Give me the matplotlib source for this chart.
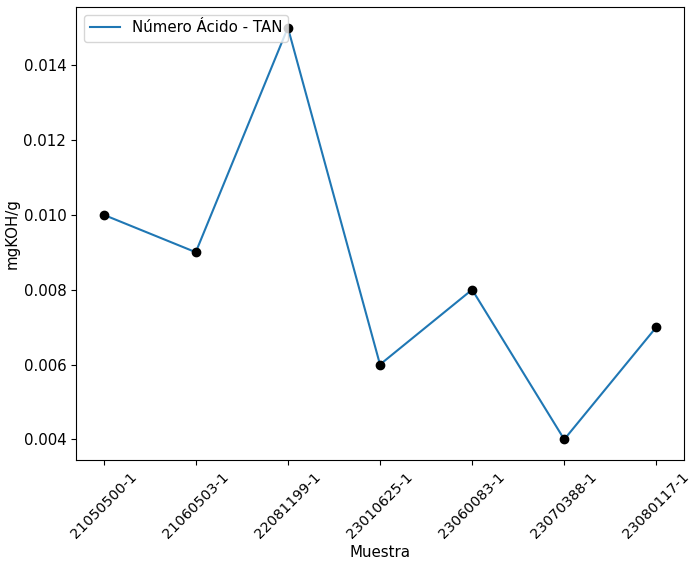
import matplotlib
matplotlib.use("Agg")
import matplotlib.pyplot as plt

muestras = ["21050500-1", "21060503-1", "22081199-1", "23010625-1",
            "23060083-1", "23070388-1", "23080117-1"]
tan = [0.010, 0.009, 0.015, 0.006, 0.008, 0.004, 0.007]

plt.rcParams['font.size'] = 10.8
fig = plt.figure(figsize=(6.91, 5.66), dpi=100)
ax = fig.add_axes([76/691, 1-460/566, (684-76)/691, (460-7)/566])
ax.plot(muestras, tan, color='#1f77b4', label='Número Ácido - TAN')
ax.scatter(muestras, tan, color='black', zorder=3)
ax.set_xlabel('Muestra', labelpad=3)
ax.set_ylabel('mgKOH/g', labelpad=3)
ax.tick_params(axis='x', rotation=45, labelsize=10.3)
ax.legend(loc='upper left')
fig.savefig('out.png', dpi=100)
